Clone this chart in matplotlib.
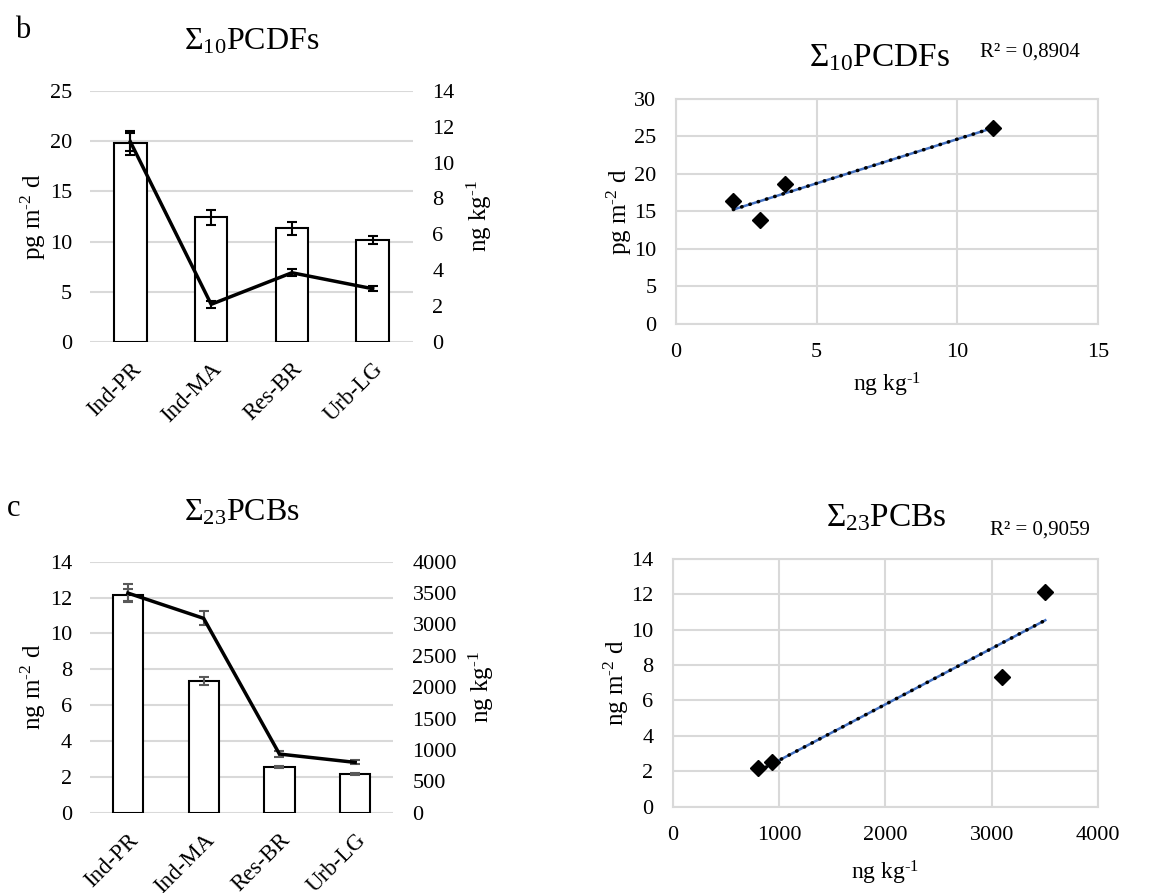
import matplotlib
matplotlib.use('Agg')
import matplotlib.pyplot as plt
import numpy as np

plt.rcParams['font.family'] = ['Liberation Serif', 'DejaVu Serif']
plt.rcParams['mathtext.fontset'] = 'custom'
plt.rcParams['mathtext.rm'] = 'Liberation Serif'
plt.rcParams['mathtext.it'] = 'Liberation Serif:italic'
plt.rcParams['mathtext.default'] = 'rm'

sites = ['Ind-PR', 'Ind-MA', 'Res-BR', 'Urb-LG']

# PCDFs: deposition (bars, pg m-2 d) and soil (line, ng kg-1)
pcdf_dep = [19.8, 12.4, 11.3, 10.15]
pcdf_dep_err = [1.2, 0.75, 0.63, 0.43]
pcdf_soil = [11.15, 2.1, 3.86, 2.97]
pcdf_soil_err = [0.5, 0.2, 0.19, 0.13]
pcdf_sc_x = [2.04, 2.98, 3.87, 11.27]
pcdf_sc_y = [16.4, 13.9, 18.7, 26.1]

# PCBs: deposition (bars, ng m-2 d) and soil (line, ng kg-1)
pcb_dep = [12.14, 7.36, 2.55, 2.18]
pcb_dep_err = [0.35, 0.23, 0.07, 0.06]
pcb_soil = [3500, 3097, 935, 802]
pcb_soil_err = [140, 110, 45, 32]
pcb_sc_x = [805, 936, 3098, 3502]
pcb_sc_y = [2.17, 2.54, 7.35, 12.15]

grid_c = '#d9d9d9'
HY = '\u2010'  # plain hyphen in superscripts, as in the original
fig = plt.figure(figsize=(11.74, 8.93), dpi=100)


def bar_panel(rect, dep, dep_err, soil, soil_err, lmax, lstep, rmax, rstep,
              ylab, err_c, title, letter, title_y, letter_xy):
    ax = fig.add_axes(rect)
    x = np.arange(len(sites))
    ax.set_axisbelow(True)
    ax.bar(x, dep, width=0.4, color='white', edgecolor='black', linewidth=1.5, zorder=2)
    ax.errorbar(x, dep, yerr=dep_err, fmt='none', ecolor=err_c, elinewidth=1.5,
                capsize=3.6, capthick=1.5, zorder=3)
    ax.set_xlim(-0.5, 3.5)
    ax.set_ylim(0, lmax)
    ax.set_yticks(np.arange(0, lmax + 0.1, lstep))
    ax.grid(axis='y', color=grid_c, linewidth=1.5)
    for s in ax.spines.values():
        s.set_visible(False)
    ax.tick_params(length=0, labelsize=16, pad=13)
    ax.tick_params(axis='x', labelsize=16.5, pad=12)
    ax.set_xticks(x)
    ax.set_xticklabels(sites, rotation=45, ha='right', va='top',
                       rotation_mode='anchor')
    ax.set_ylabel(ylab, fontsize=18, labelpad=1)
    ax2 = ax.twinx()
    ax2.errorbar(x, soil, yerr=soil_err, color='black', linewidth=2.5,
                 ecolor=err_c, elinewidth=1.5, capsize=3.6, capthick=1.5, zorder=4)
    ax2.set_ylim(0, rmax)
    ax2.set_yticks(np.arange(0, rmax + 0.1, rstep))
    for s in ax2.spines.values():
        s.set_visible(False)
    ax2.tick_params(length=0, labelsize=16, pad=14)
    ax2.set_ylabel('ng kg$^{' + HY + '1}$', fontsize=18, labelpad=7)
    cx = rect[0] + rect[2] / 2
    fig.text(cx, title_y, title, fontsize=23, ha='center', va='center')
    fig.text(letter_xy[0], letter_xy[1], letter, fontsize=22, ha='left', va='center')


def scatter_panel(rect, xs, ys, xmax, xstep, ymax, ystep, ylab, title,
                  title_xy, r2, r2_xy, xlab_pad):
    ax = fig.add_axes(rect)
    ax.set_axisbelow(True)
    ax.set_xlim(0, xmax)
    ax.set_ylim(0, ymax)
    ax.set_xticks(np.arange(0, xmax + 0.1, xstep))
    ax.set_yticks(np.arange(0, ymax + 0.1, ystep))
    ax.grid(True, color=grid_c, linewidth=1.5)
    for s in ax.spines.values():
        s.set_color(grid_c)
        s.set_linewidth(1.5)
    ax.tick_params(length=0, labelsize=16, pad=14)
    ax.tick_params(axis='x', pad=14)
    k, b = np.polyfit(xs, ys, 1)
    fx = np.array([min(xs), max(xs)])
    ax.plot(fx, k * fx + b, color='#4472c4', linewidth=1.8, zorder=2)
    ax.plot(fx, k * fx + b, color='black', linewidth=2.6, linestyle=(0, (0.1, 2.3)),
            dash_capstyle='round', zorder=3)
    ax.plot(xs, ys, linestyle='none', marker='D', markersize=8, color='black', zorder=4)
    ax.set_ylabel(ylab, fontsize=18, labelpad=0)
    ax.set_xlabel('ng kg$^{' + HY + '1}$', fontsize=17, labelpad=xlab_pad)
    fig.text(title_xy[0], title_xy[1], title, fontsize=24, ha='center', va='center')
    fig.text(r2_xy[0], r2_xy[1], r2, fontsize=15, ha='left', va='center')


bar_panel([0.0767, 0.617, 0.2751, 0.2814], pcdf_dep, pcdf_dep_err, pcdf_soil,
          pcdf_soil_err, 25, 5, 14, 2, 'pg m$^{' + HY + '2}$ d', 'black',
          r'$\Sigma_{10}$PCDFs', 'b', 1 - 42 / 893, (0.013, 1 - 30 / 893))
bar_panel([0.0767, 0.0899, 0.2581, 0.2811], pcb_dep, pcb_dep_err, pcb_soil,
          pcb_soil_err, 14, 2, 4000, 500, 'ng m$^{' + HY + '2}$ d', '#595959',
          r'$\Sigma_{23}$PCBs', 'c', 1 - 513 / 893, (0.006, 1 - 508 / 893))

scatter_panel([0.5758, 0.6372, 0.3595, 0.2523], pcdf_sc_x, pcdf_sc_y, 15, 5, 30, 5,
              'pg m$^{' + HY + '2}$ d', r'$\Sigma_{10}$PCDFs', (880 / 1174, 1 - 58 / 893),
              'R² = 0,8904', (980 / 1174, 1 - 52 / 893), 6)
scatter_panel([0.573, 0.0967, 0.3625, 0.2774], pcb_sc_x, pcb_sc_y, 4000, 1000, 14, 2,
              'ng m$^{' + HY + '2}$ d', r'$\Sigma_{23}$PCBs', (886 / 1174, 1 - 518 / 893),
              'R² = 0,9059', (990 / 1174, 1 - 530 / 893), 10)

fig.savefig('out.png', dpi=100)
